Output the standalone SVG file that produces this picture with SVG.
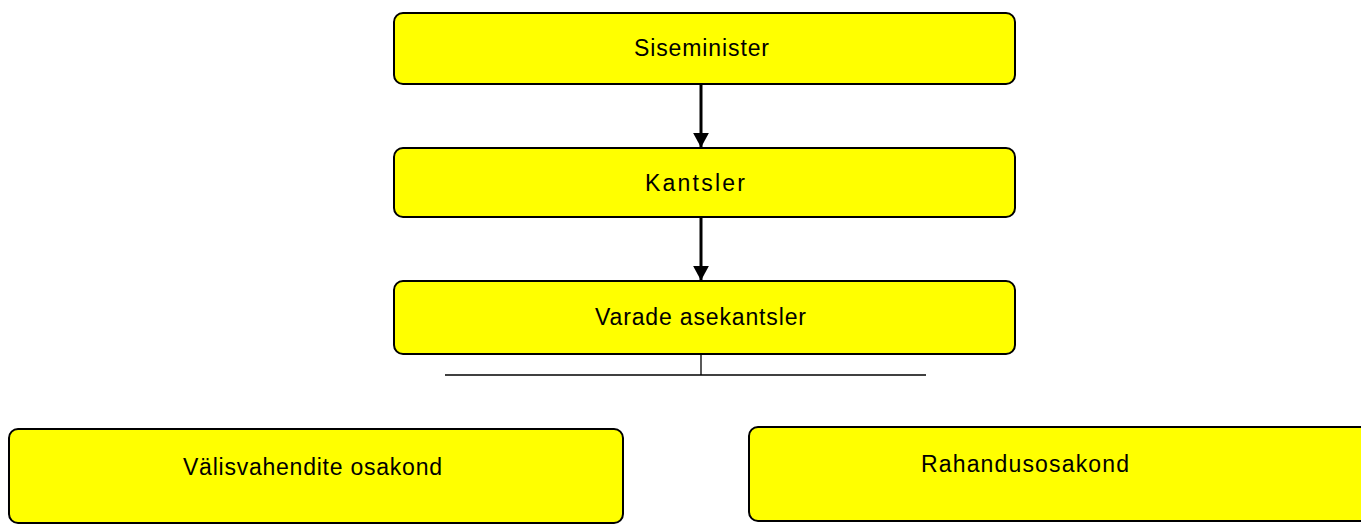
<svg xmlns="http://www.w3.org/2000/svg" width="1361" height="525" viewBox="0 0 1361 525">
  <style>
    .box { fill: #ffff00; stroke: #000; stroke-width: 2; }
    .lbl { font-family: "Liberation Sans", Arial, sans-serif; font-size: 23px; fill: #000; }
    .arrow { stroke: #000; stroke-width: 3; fill: none; }
    .thin { stroke: #000; stroke-width: 1.3; fill: none; }
  </style>
  <defs>
    <marker id="head" markerWidth="5" markerHeight="5.4" refX="4.8" refY="2.7" orient="auto" markerUnits="strokeWidth">
      <path d="M0,0 L5,2.7 L0,5.4 Z" fill="#000"/>
    </marker>
  </defs>

  <g id="connectors">
    <line class="arrow" x1="701" y1="85" x2="701" y2="147" marker-end="url(#head)"/>
    <line class="arrow" x1="701" y1="218" x2="701" y2="280" marker-end="url(#head)"/>
    <line class="thin" x1="701" y1="354" x2="701" y2="375"/>
    <line class="thin" x1="445" y1="375" x2="926" y2="375"/>
  </g>

  <g id="siseminister">
    <rect class="box" x="394" y="13" width="621" height="71" rx="9"/>
    <text class="lbl" x="634" y="56" textLength="135" lengthAdjust="spacing">Siseminister</text>
  </g>

  <g id="kantsler">
    <rect class="box" x="394" y="148" width="621" height="69" rx="9"/>
    <text class="lbl" x="645" y="191" textLength="100" lengthAdjust="spacing">Kantsler</text>
  </g>

  <g id="varade-asekantsler">
    <rect class="box" x="394" y="281" width="621" height="73" rx="9"/>
    <text class="lbl" x="595" y="325" textLength="211" lengthAdjust="spacing">Varade asekantsler</text>
  </g>

  <g id="valisvahendite-osakond">
    <rect class="box" x="9" y="429" width="614" height="94" rx="9"/>
    <text class="lbl" x="183" y="475" textLength="259" lengthAdjust="spacing">Välisvahendite osakond</text>
  </g>

  <g id="rahandusosakond">
    <rect class="box" x="749" y="427" width="620" height="94" rx="9"/>
    <text class="lbl" x="921" y="472" textLength="208" lengthAdjust="spacing">Rahandusosakond</text>
  </g>
</svg>
